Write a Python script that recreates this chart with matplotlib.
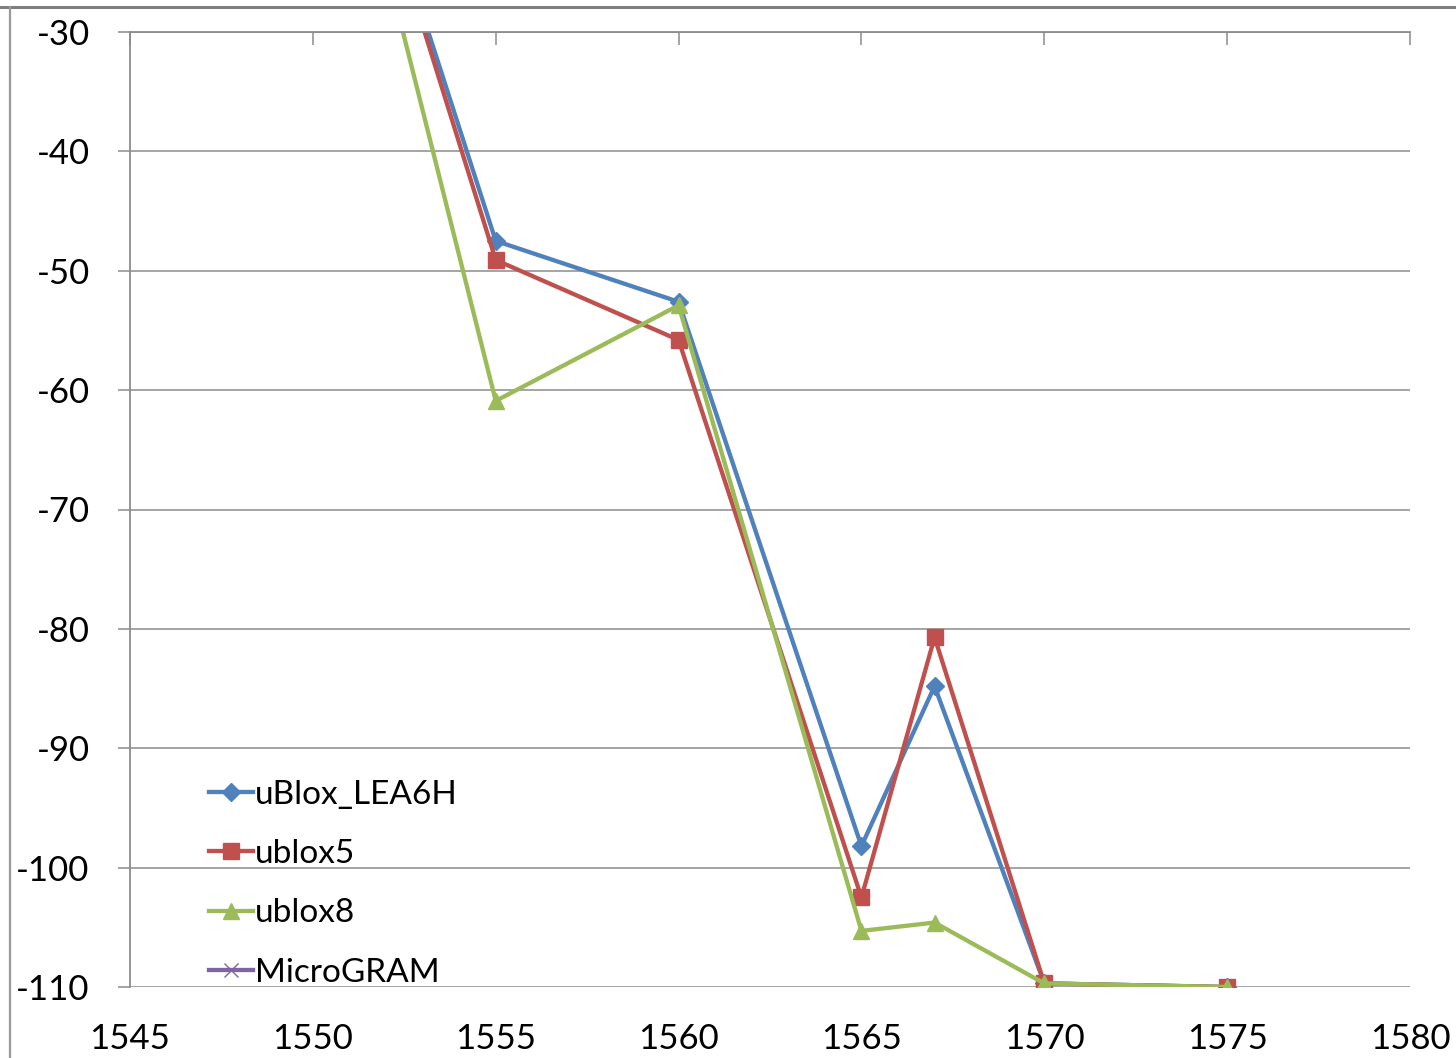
import matplotlib
matplotlib.use('Agg')
import matplotlib.pyplot as plt
import numpy as np
from matplotlib.lines import Line2D

plt.rcParams['font.family'] = ['Lato', 'DejaVu Sans']
plt.rcParams['axes.unicode_minus'] = False

# frequency (MHz) vs. level (dB)
freq = [1550, 1555, 1560, 1565, 1567, 1570, 1575]
lea6h = [0, -47.5, -52.6, -98.2, -84.8, -109.7, -110]
ublox5 = [0, -49.1, -55.8, -102.5, -80.7, -109.7, -110]
ublox8 = [0, -60.9, -52.9, -105.3, -104.6, -109.7, -110]
microgram = [np.nan] * len(freq)

names = ['uBlox_LEA6H', 'ublox5', 'ublox8', 'MicroGRAM']
colors = ['#4F81BD', '#C0504D', '#9BBB59', '#8064A2']
markers = ['D', 's', '^', 'x']
msizes = [9, 11, 12, 10]

fig = plt.figure(figsize=(14.56, 10.58), dpi=100)
ax = fig.add_axes([130/1456, 1-987/1058, 1280/1456, 955/1058])

for ys, name, c, m, ms in zip([lea6h, ublox5, ublox8, microgram], names, colors, markers, msizes):
    ax.plot(freq, ys, color=c, lw=3.1, marker=m, markersize=ms, label=name,
            markeredgecolor=c, markerfacecolor=c, clip_on=True)

ax.set_xlim(1545, 1580)
ax.set_ylim(-110, -30)
ax.set_xticks(np.arange(1545, 1581, 5))
ax.set_yticks(np.arange(-110, -29, 10))

grid_c = '#8C8C8C'
ax.yaxis.grid(True, color=grid_c, lw=1.1)
ax.set_axisbelow(True)

for s in ['bottom', 'right']:
    ax.spines[s].set_visible(False)
for s in ['top', 'left']:
    ax.spines[s].set_color(grid_c)
    ax.spines[s].set_linewidth(1.3)

# x axis crosses at the top; labels stay at the bottom
ax.tick_params(axis='x', top=True, bottom=False, labeltop=False, labelbottom=True,
               direction='in', length=9, width=1.1, color=grid_c, pad=26,
               labelsize=25)
ax.tick_params(axis='y', left=True, direction='out', length=9, width=1.1,
               color=grid_c, pad=20, labelsize=25)

leg = ax.legend(loc='upper left', bbox_to_anchor=(0.051, 0.231), frameon=False,
                fontsize=24, handlelength=1.32, handletextpad=0.08,
                labelspacing=0.88, borderaxespad=0)

# outer chart border
fig.add_artist(Line2D([0, 1], [1-6.5/1058, 1-6.5/1058], transform=fig.transFigure,
                      color='#7F7F7F', lw=2.2))
fig.add_artist(Line2D([10/1456, 10/1456], [0, 1-6.5/1058], transform=fig.transFigure,
                      color='#9A9A9A', lw=1.6))

fig.savefig('out.png', dpi=100)
